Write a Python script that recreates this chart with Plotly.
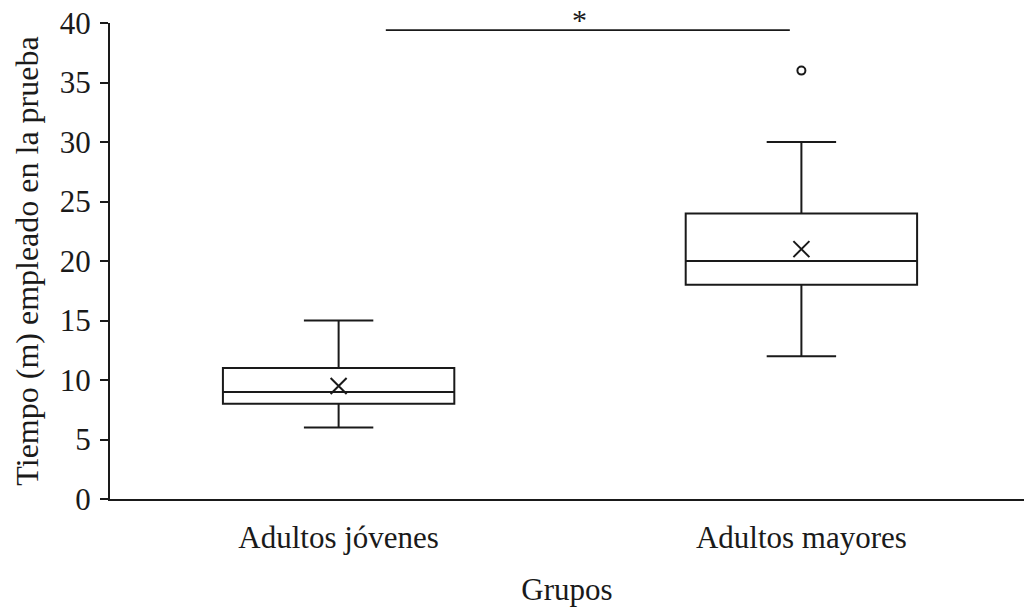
import plotly.graph_objects as go

categories = ["Adultos jóvenes", "Adultos mayores"]
q1 = [8, 18]
median = [9, 20]
q3 = [11, 24]
lower_whisker = [6, 12]
upper_whisker = [15, 30]
means = [9.5, 21]
outlier_x = ["Adultos mayores"]
outlier_y = [36]
y_ticks = [0, 5, 10, 15, 20, 25, 30, 35, 40]

sig_x = [0.102, 0.975]
sig_y = 39.4
sig_label = "*"

FONT = "Liberation Serif, Times New Roman, serif"
INK = "#1a1a1a"

fig = go.Figure()
for i, c in enumerate(categories):
    fig.add_trace(go.Box(
        x=[c], q1=[q1[i]], median=[median[i]], q3=[q3[i]],
        lowerfence=[lower_whisker[i]], upperfence=[upper_whisker[i]],
        boxpoints=False, width=0.5, whiskerwidth=0.3,
        fillcolor="white", line=dict(color=INK, width=2),
        showlegend=False, hoverinfo="skip",
    ))

fig.add_trace(go.Scatter(
    x=categories, y=means, mode="markers",
    marker=dict(symbol="x-thin-open", size=16, color=INK, line=dict(color=INK, width=2)),
    showlegend=False,
))
fig.add_trace(go.Scatter(
    x=outlier_x, y=outlier_y, mode="markers",
    marker=dict(symbol="circle-open", size=8, color=INK, line=dict(color=INK, width=2)),
    showlegend=False,
))

fig.add_trace(go.Scatter(
    x=sig_x, y=[sig_y, sig_y], mode="lines", xaxis="x2",
    line=dict(color=INK, width=1.6), showlegend=False, cliponaxis=False,
))
fig.add_annotation(
    x=0.52, y=sig_y, xref="x2", yref="y",
    text=sig_label, showarrow=False, yanchor="bottom", yshift=-8,
    font=dict(family=FONT, size=30, color=INK),
)

fig.update_layout(
    width=1024, height=607,
    margin=dict(l=110, r=0, t=23, b=108, autoexpand=False),
    plot_bgcolor="white", paper_bgcolor="white",
    font=dict(family=FONT, size=31, color=INK),
    xaxis=dict(
        type="category", categoryorder="array", categoryarray=categories,
        range=[-0.494, 1.481], showline=True, linecolor=INK, linewidth=2,
        ticks="", showgrid=False, zeroline=False, ticklabelstandoff=10,
        automargin=False,
        title=dict(text="Grupos", font=dict(size=31), standoff=24),
    ),
    xaxis2=dict(
        overlaying="x", range=[-0.494, 1.481], visible=False,
    ),
    yaxis=dict(
        range=[0, 40], tickvals=y_ticks, showline=True, linecolor=INK,
        linewidth=2, ticks="outside", ticklen=8, tickwidth=2,
        tickcolor=INK, showgrid=False, zeroline=False, ticklabelstandoff=3,
        ticklabeloverflow="allow", automargin=False,
        title=dict(text="Tiempo (m) empleado en la prueba", font=dict(size=32), standoff=12),
    ),
)

fig.write_html(
    "out.html",
    config={"displayModeBar": False},
    post_script="document.body.style.margin='0';document.body.style.overflow='hidden';",
)
